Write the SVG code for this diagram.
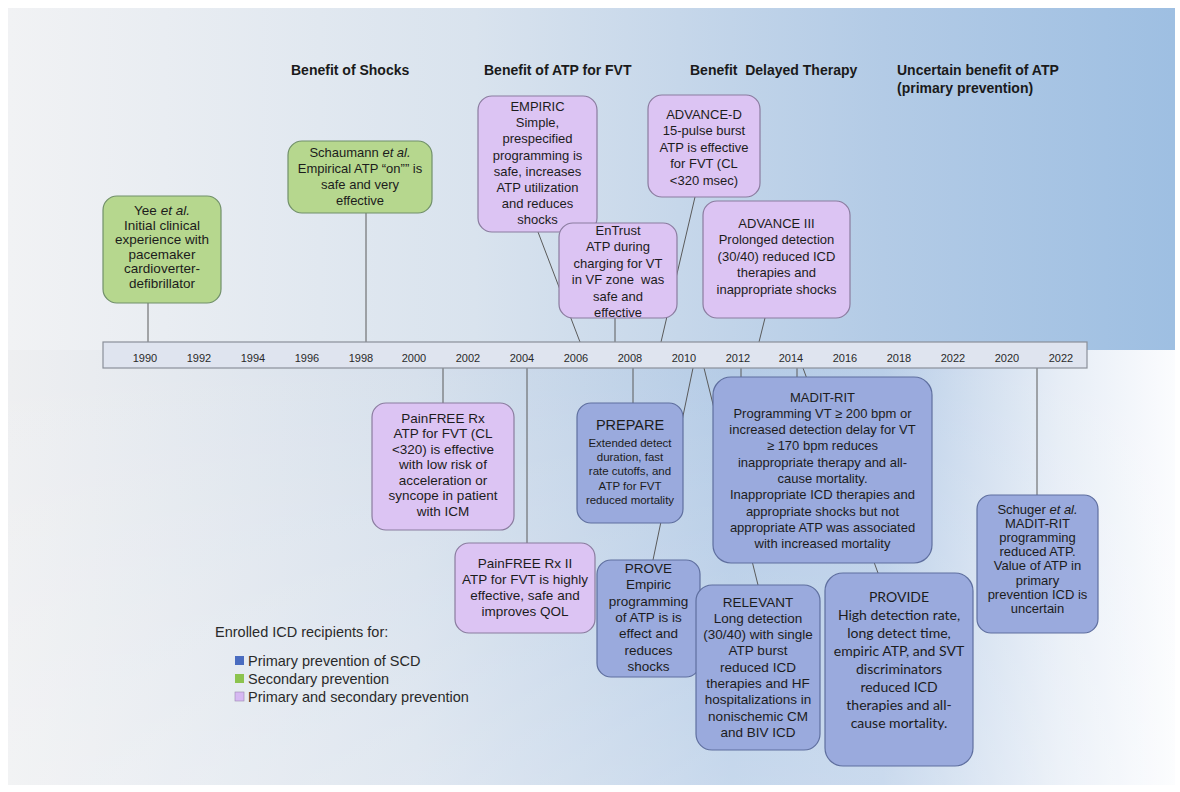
<svg xmlns="http://www.w3.org/2000/svg" width="1180" height="792" viewBox="0 0 1180 792">
<defs>
<linearGradient id="bgTop" x1="0" y1="0" x2="1" y2="0">
<stop offset="0" stop-color="#f1f2f4"/>
<stop offset="0.4" stop-color="#d9e3ee"/>
<stop offset="0.75" stop-color="#b3cbe6"/>
<stop offset="1" stop-color="#9ebfe2"/>
</linearGradient>
<linearGradient id="bgBot" x1="0" y1="0" x2="1" y2="0">
<stop offset="0" stop-color="#eeeff1"/>
<stop offset="0.35" stop-color="#d6e0ec"/>
<stop offset="0.62" stop-color="#b4cbe6"/>
<stop offset="0.75" stop-color="#b9cee8"/>
<stop offset="0.9" stop-color="#e6edf6"/>
<stop offset="1" stop-color="#fbfcfe"/>
</linearGradient>
<linearGradient id="bgFade" x1="0" y1="0" x2="0" y2="1">
<stop offset="0" stop-color="#ffffff" stop-opacity="0"/>
<stop offset="1" stop-color="#ffffff" stop-opacity="0.25"/>
</linearGradient>
</defs>
<style>
.g{fill:#b6d78e;stroke:#71906a;stroke-width:1.2}
.p{fill:#dcc4f3;stroke:#8a7c9f;stroke-width:1.2}
.b{fill:#9aaadd;stroke:#5f6f9f;stroke-width:1.2}
.t{font-family:"Liberation Sans",Arial,sans-serif;font-size:13px;fill:#1c1c1c;text-anchor:middle}
.t135{font-size:13.5px}
.small{font-size:11.5px}
.ttl{font-size:14.5px}
.cal{font-family:Lato,"Liberation Sans",sans-serif;font-size:14px}
.i{font-style:italic}
.hdr{font-family:"Liberation Sans",Arial,sans-serif;font-size:14px;font-weight:bold;fill:#1a1a1a}
.yr{font-family:"Liberation Sans",Arial,sans-serif;font-size:11px;fill:#2a2a2a;text-anchor:middle}
.lg{font-family:"Liberation Sans",Arial,sans-serif;font-size:14.5px;fill:#2a2a2a}
.c{stroke:#5a5a5a;stroke-width:1;fill:none}
</style>
<rect x="0" y="0" width="1180" height="792" fill="#ffffff"/>
<rect x="8" y="8" width="1167" height="342" fill="url(#bgTop)"/>
<rect x="8" y="350" width="1167" height="435" fill="url(#bgBot)"/>
<rect x="8" y="350" width="1167" height="435" fill="url(#bgFade)"/>

<g id="headers">
<text class="hdr" x="291" y="75">Benefit of Shocks</text>
<text class="hdr" x="484" y="75">Benefit of ATP for FVT</text>
<text class="hdr" x="690" y="75" xml:space="preserve">Benefit  Delayed Therapy</text>
<text class="hdr" x="897" y="75">Uncertain benefit of ATP</text>
<text class="hdr" x="897" y="93">(primary prevention)</text>
</g>

<g id="connectors">
<line class="c" x1="148" y1="303" x2="148" y2="346"/>
<line class="c" x1="366" y1="213" x2="366" y2="342"/>
<line class="c" x1="538" y1="232" x2="580" y2="342"/>
<line class="c" x1="615" y1="318" x2="615" y2="342"/>
<line class="c" x1="695" y1="197" x2="661" y2="342"/>
<line class="c" x1="765" y1="318" x2="759" y2="342"/>
<line class="c" x1="443" y1="366" x2="443" y2="403"/>
<line class="c" x1="527" y1="368" x2="527" y2="543"/>
<line class="c" x1="633" y1="368" x2="633" y2="403"/>
<line class="c" x1="693" y1="368" x2="653" y2="560"/>
<line class="c" x1="704" y1="368" x2="758" y2="585"/>
<line class="c" x1="741" y1="368" x2="741" y2="378"/>
<line class="c" x1="797" y1="368" x2="797" y2="378"/>
<line class="c" x1="803" y1="368" x2="878" y2="573"/>
<line class="c" x1="1037" y1="368" x2="1037" y2="495"/>
</g>

<g id="timeline">
<rect x="103" y="342" width="984" height="26" fill="#dfe4ef" stroke="#8a8f99" stroke-width="1.2"/>
<text class="yr" x="145" y="362">1990</text>
<text class="yr" x="199" y="362">1992</text>
<text class="yr" x="253" y="362">1994</text>
<text class="yr" x="307" y="362">1996</text>
<text class="yr" x="361" y="362">1998</text>
<text class="yr" x="414" y="362">2000</text>
<text class="yr" x="468" y="362">2002</text>
<text class="yr" x="522" y="362">2004</text>
<text class="yr" x="576" y="362">2006</text>
<text class="yr" x="630" y="362">2008</text>
<text class="yr" x="684" y="362">2010</text>
<text class="yr" x="738" y="362">2012</text>
<text class="yr" x="791" y="362">2014</text>
<text class="yr" x="845" y="362">2016</text>
<text class="yr" x="899" y="362">2018</text>
<text class="yr" x="953" y="362">2022</text>
<text class="yr" x="1007" y="362">2020</text>
<text class="yr" x="1061" y="362">2022</text>
</g>

<g id="yee">
<rect class="g" x="103" y="196" width="118" height="107" rx="14"/>
<text class="t t135" x="162" y="215"><tspan x="162">Yee <tspan class="i">et al.</tspan></tspan><tspan x="162" dy="14.5">Initial clinical</tspan><tspan x="162" dy="14.5">experience with</tspan><tspan x="162" dy="14.5">pacemaker</tspan><tspan x="162" dy="14.5">cardioverter-</tspan><tspan x="162" dy="14.5">defibrillator</tspan></text>
</g>

<g id="schaumann">
<rect class="g" x="288" y="141" width="144" height="72" rx="14"/>
<text class="t" x="360" y="157"><tspan x="360">Schaumann <tspan class="i">et al.</tspan></tspan><tspan x="360" dy="16">Empirical ATP “on”” is</tspan><tspan x="360" dy="16">safe and very</tspan><tspan x="360" dy="16">effective</tspan></text>
</g>

<g id="empiric">
<rect class="p" x="478" y="96" width="119" height="136" rx="14"/>
<text class="t" x="537.5" y="111"><tspan x="537.5">EMPIRIC</tspan><tspan x="537.5" dy="16.2">Simple,</tspan><tspan x="537.5" dy="16.2">prespecified</tspan><tspan x="537.5" dy="16.2">programming is</tspan><tspan x="537.5" dy="16.2">safe, increases</tspan><tspan x="537.5" dy="16.2">ATP utilization</tspan><tspan x="537.5" dy="16.2">and reduces</tspan><tspan x="537.5" dy="16.2">shocks</tspan></text>
</g>

<g id="entrust">
<rect class="p" x="559" y="223" width="118" height="95" rx="14"/>
<text class="t" x="618" y="235"><tspan x="618">EnTrust</tspan><tspan x="618" dy="16.4">ATP during</tspan><tspan x="618" dy="16.4">charging for VT</tspan><tspan x="618" dy="16.4" xml:space="preserve">in VF zone  was</tspan><tspan x="618" dy="16.4">safe and</tspan><tspan x="618" dy="16.4">effective</tspan></text>
</g>

<g id="advance-d">
<rect class="p" x="648" y="95" width="112" height="102" rx="14"/>
<text class="t" x="704" y="118.5"><tspan x="704">ADVANCE-D</tspan><tspan x="704" dy="16.5">15-pulse burst</tspan><tspan x="704" dy="16.5">ATP is effective</tspan><tspan x="704" dy="16.5">for FVT (CL</tspan><tspan x="704" dy="16.5">&lt;320 msec)</tspan></text>
</g>

<g id="advance-iii">
<rect class="p" x="703" y="201" width="147" height="117" rx="14"/>
<text class="t" x="776.5" y="227.5"><tspan x="776.5">ADVANCE III</tspan><tspan x="776.5" dy="16.5">Prolonged detection</tspan><tspan x="776.5" dy="16.5">(30/40) reduced ICD</tspan><tspan x="776.5" dy="16.5">therapies and</tspan><tspan x="776.5" dy="16.5">inappropriate shocks</tspan></text>
</g>

<g id="painfree-rx">
<rect class="p" x="372" y="403" width="142" height="127" rx="14"/>
<text class="t t135" x="443" y="422.5"><tspan x="443">PainFREE Rx</tspan><tspan x="443" dy="15.5">ATP for FVT (CL</tspan><tspan x="443" dy="15.5">&lt;320) is effective</tspan><tspan x="443" dy="15.5">with low risk of</tspan><tspan x="443" dy="15.5">acceleration or</tspan><tspan x="443" dy="15.5">syncope in patient</tspan><tspan x="443" dy="15.5">with ICM</tspan></text>
</g>

<g id="painfree-rx-ii">
<rect class="p" x="455" y="543" width="140" height="90" rx="14"/>
<text class="t t135" x="525" y="567.5"><tspan x="525">PainFREE Rx II</tspan><tspan x="525" dy="16.3">ATP for FVT is highly</tspan><tspan x="525" dy="16.3">effective, safe and</tspan><tspan x="525" dy="16.3">improves QOL</tspan></text>
</g>

<g id="prepare">
<rect class="b" x="577" y="403" width="106" height="120" rx="14"/>
<text class="t ttl" x="630" y="430">PREPARE</text>
<text class="t small" x="630" y="447"><tspan x="630">Extended detect</tspan><tspan x="630" dy="14.2">duration, fast</tspan><tspan x="630" dy="14.2">rate cutoffs, and</tspan><tspan x="630" dy="14.2">ATP for FVT</tspan><tspan x="630" dy="14.2">reduced mortality</tspan></text>
</g>

<g id="prove">
<rect class="b" x="597" y="560" width="103" height="117" rx="14"/>
<text class="t t135" x="648.5" y="573"><tspan x="648.5">PROVE</tspan><tspan x="648.5" dy="16.3">Empiric</tspan><tspan x="648.5" dy="16.3">programming</tspan><tspan x="648.5" dy="16.3">of ATP is is</tspan><tspan x="648.5" dy="16.3">effect and</tspan><tspan x="648.5" dy="16.3">reduces</tspan><tspan x="648.5" dy="16.3">shocks</tspan></text>
</g>

<g id="madit-rit">
<rect class="b" x="713" y="377" width="219" height="186" rx="18"/>
<text class="t" x="822.5" y="401.5"><tspan x="822.5">MADIT-RIT</tspan><tspan x="822.5" dy="16.3">Programming VT ≥ 200 bpm or</tspan><tspan x="822.5" dy="16.3">increased detection delay for VT</tspan><tspan x="822.5" dy="16.3">≥ 170 bpm reduces</tspan><tspan x="822.5" dy="16.3">inappropriate therapy and all-</tspan><tspan x="822.5" dy="16.3">cause mortality.</tspan><tspan x="822.5" dy="16.3">Inappropriate ICD therapies and</tspan><tspan x="822.5" dy="16.3">appropriate shocks but not</tspan><tspan x="822.5" dy="16.3">appropriate ATP was associated</tspan><tspan x="822.5" dy="16.3">with increased mortality</tspan></text>
</g>

<g id="relevant">
<rect class="b" x="696" y="585" width="124" height="165" rx="16"/>
<text class="t t135" x="758" y="606.5"><tspan x="758">RELEVANT</tspan><tspan x="758" dy="16.3">Long detection</tspan><tspan x="758" dy="16.3">(30/40) with single</tspan><tspan x="758" dy="16.3">ATP burst</tspan><tspan x="758" dy="16.3">reduced ICD</tspan><tspan x="758" dy="16.3">therapies and HF</tspan><tspan x="758" dy="16.3">hospitalizations in</tspan><tspan x="758" dy="16.3">nonischemic CM</tspan><tspan x="758" dy="16.3">and BIV ICD</tspan></text>
</g>

<g id="provide">
<rect class="b" x="825" y="573" width="148" height="193" rx="18"/>
<text class="t cal" x="899" y="602"><tspan x="899">PROVIDE</tspan><tspan x="899" dy="18">High detection rate,</tspan><tspan x="899" dy="18">long detect time,</tspan><tspan x="899" dy="18">empiric ATP, and SVT</tspan><tspan x="899" dy="18">discriminators</tspan><tspan x="899" dy="18">reduced ICD</tspan><tspan x="899" dy="18">therapies and all-</tspan><tspan x="899" dy="18">cause mortality.</tspan></text>
</g>

<g id="schuger">
<rect class="b" x="977" y="495" width="121" height="138" rx="14"/>
<text class="t" x="1037.5" y="513.5"><tspan x="1037.5">Schuger <tspan class="i">et al.</tspan></tspan><tspan x="1037.5" dy="14.2">MADIT-RIT</tspan><tspan x="1037.5" dy="14.2">programming</tspan><tspan x="1037.5" dy="14.2">reduced ATP.</tspan><tspan x="1037.5" dy="14.2">Value of ATP in</tspan><tspan x="1037.5" dy="14.2">primary</tspan><tspan x="1037.5" dy="14.2">prevention ICD is</tspan><tspan x="1037.5" dy="14.2">uncertain</tspan></text>
</g>

<g id="legend">
<text class="lg" x="215" y="637">Enrolled ICD recipients for:</text>
<rect x="235" y="656" width="9" height="9" fill="#4a6cc0"/>
<text class="lg" x="248" y="666">Primary prevention of SCD</text>
<rect x="235" y="674" width="9" height="9" fill="#8cc34e"/>
<text class="lg" x="248" y="684">Secondary prevention</text>
<rect x="235" y="692" width="9" height="9" fill="#d6b8f2" stroke="#9a88b0" stroke-width="0.6"/>
<text class="lg" x="248" y="702">Primary and secondary prevention</text>
</g>
</svg>
